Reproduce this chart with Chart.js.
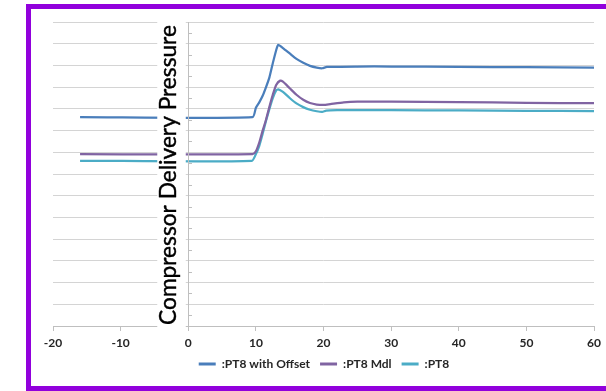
<!DOCTYPE html>
<html>
<head>
<meta charset="utf-8">
<script src="https://cdn.jsdelivr.net/npm/chart.js@4.4.0/dist/chart.umd.min.js"></script>
<style>
    html, body { margin: 0; padding: 0; background: #fff; }
    #wrap { position: relative; width: 606px; height: 391px; overflow: hidden; }
    #frame {
        position: absolute; left: 26px; top: 4px; width: 600px; height: 387px;
        box-sizing: border-box; border: 5px solid #9100dc; pointer-events: none;
    }
    canvas { position: absolute; left: 0; top: 0; }
</style>
</head>
<body>
<div id="wrap">
    <canvas id="pressureChart" width="606" height="391"></canvas>
    <div id="frame"></div>
</div>
<script>
// values (x = time, y = pressure in grid units)
const offsetTime   = [-16, 9.5, 10.0, 10.5, 11.0, 11.5, 12.0, 12.5, 13.0, 13.3, 14.0, 15.0, 16.0, 17.0, 18.0, 19.0, 19.8, 20.5, 25, 30, 40, 50, 60];
const offsetValues = [9.62, 9.62, 10.05, 10.3, 10.6, 11.0, 11.45, 12.1, 12.7, 12.95, 12.8, 12.55, 12.3, 12.12, 11.98, 11.9, 11.87, 11.93, 11.95, 11.95, 11.93, 11.92, 11.9];

const mdlTime   = [-16, 9.5, 10.0, 10.5, 11.0, 11.5, 12.0, 12.5, 13.0, 13.6, 14.0, 15.0, 16.0, 17.0, 18.0, 19.0, 20.0, 21, 23, 25, 30, 40, 50, 60];
const mdlValues = [7.91, 7.91, 8.05, 8.45, 9.0, 9.5, 10.1, 10.65, 11.1, 11.3, 11.25, 10.95, 10.65, 10.42, 10.27, 10.2, 10.18, 10.22, 10.3, 10.33, 10.33, 10.31, 10.28, 10.26];

const pt8Time   = [-16, 9.4, 10.0, 10.5, 11.0, 11.5, 12.0, 12.5, 13.0, 13.3, 14.0, 15.0, 16.0, 17.0, 18.0, 19.0, 19.8, 20.4, 22, 25, 30, 40, 50, 60];
const pt8Values = [7.61, 7.61, 7.92, 8.3, 8.85, 9.45, 10.0, 10.5, 10.85, 10.9, 10.78, 10.5, 10.25, 10.08, 9.96, 9.89, 9.86, 9.92, 9.94, 9.94, 9.94, 9.93, 9.91, 9.9];

const seriesNames = [':PT8 with Offset', ':PT8 Mdl', ':PT8'];
const xTicks = [-20, -10, 0, 10, 20, 30, 40, 50, 60];
const yTitle = 'Compressor Delivery Pressure';

function toPoints(times, values) {
    return times.map((t, i) => ({x: t, y: values[i]}));
}

const axisColor = '#bfbfbf';

// y axis line sits at x = 0, with a title box covering the lines left of it
const axisTitlePlugin = {
    id: 'axisTitle',
    afterDatasetsDraw(chart) {
        const {ctx, chartArea, scales} = chart;
        const x0 = scales.x.getPixelForValue(0);
        const yScale = scales.y;

        ctx.save();
        ctx.fillStyle = '#fff';
        ctx.fillRect(x0 - 31, chartArea.top - 2, 28.5, chartArea.bottom - chartArea.top + 3);

        ctx.strokeStyle = axisColor;
        ctx.lineWidth = 1;
        ctx.beginPath();
        ctx.moveTo(Math.round(x0) + 0.5, chartArea.top);
        ctx.lineTo(Math.round(x0) + 0.5, chartArea.bottom);
        for (let v = 0.5; v < yScale.max; v += 1) {
            const py = Math.round(yScale.getPixelForValue(v)) + 0.5;
            ctx.moveTo(Math.round(x0) + 0.5, py);
            ctx.lineTo(Math.round(x0) + 4, py);
        }
        ctx.stroke();

        const span = chartArea.bottom - chartArea.top - 4;
        ctx.font = '20px Lato';
        const size = 20 * span / ctx.measureText(yTitle).width;
        ctx.font = size.toFixed(1) + 'px Lato';
        ctx.translate(x0 - 12, (chartArea.top + chartArea.bottom) / 2 + 1);
        ctx.rotate(-Math.PI / 2);
        ctx.fillStyle = '#000';
        ctx.strokeStyle = '#000';
        ctx.lineWidth = 0.4;
        ctx.textAlign = 'center';
        ctx.textBaseline = 'alphabetic';
        ctx.fillText(yTitle, 0, 0);
        ctx.strokeText(yTitle, 0, 0);
        ctx.restore();
    }
};

const ctx = document.getElementById('pressureChart').getContext('2d');

new Chart(ctx, {
    type: 'line',
    data: {
        datasets: [{
            label: seriesNames[0],
            data: toPoints(offsetTime, offsetValues),
            borderColor: '#4a7ebb',
            backgroundColor: '#4a7ebb'
        }, {
            label: seriesNames[1],
            data: toPoints(mdlTime, mdlValues),
            borderColor: '#8064a2',
            backgroundColor: '#8064a2'
        }, {
            label: seriesNames[2],
            data: toPoints(pt8Time, pt8Values),
            borderColor: '#4bacc6',
            backgroundColor: '#4bacc6'
        }]
    },
    options: {
        responsive: false,
        animation: false,
        devicePixelRatio: 1,
        elements: {
            line: {borderWidth: 2.25, tension: 0.2},
            point: {radius: 0}
        },
        layout: {
            padding: {left: 53, right: 11, top: 22, bottom: 11}
        },
        scales: {
            x: {
                type: 'linear',
                min: xTicks[0],
                max: xTicks[xTicks.length - 1],
                afterBuildTicks: (scale) => {
                    scale.ticks = xTicks.map(v => ({value: v}));
                },
                afterFit: (scale) => {
                    scale.height = 22;
                },
                grid: {
                    drawOnChartArea: false,
                    drawTicks: true,
                    tickLength: 5,
                    color: axisColor
                },
                border: {color: axisColor},
                ticks: {
                    padding: 5,
                    maxRotation: 0,
                    color: '#262626',
                    font: {family: 'Lato', size: 12, weight: 'bold'}
                }
            },
            y: {
                min: 0,
                max: 14,
                ticks: {display: false, stepSize: 1},
                grid: {
                    drawTicks: false,
                    color: '#d4d4d4'
                },
                border: {display: false}
            }
        },
        plugins: {
            legend: {
                position: 'bottom',
                labels: {
                    usePointStyle: true,
                    pointStyle: 'line',
                    pointStyleWidth: 17,
                    padding: 10,
                    color: '#262626',
                    font: {family: 'Lato', size: 12, weight: 'bold'},
                    generateLabels: (chart) => {
                        const items = Chart.defaults.plugins.legend.labels.generateLabels(chart);
                        items.forEach(item => { item.lineWidth = 3; });
                        return items;
                    }
                }
            },
            tooltip: {enabled: false}
        }
    },
    plugins: [axisTitlePlugin]
});
</script>
</body>
</html>
